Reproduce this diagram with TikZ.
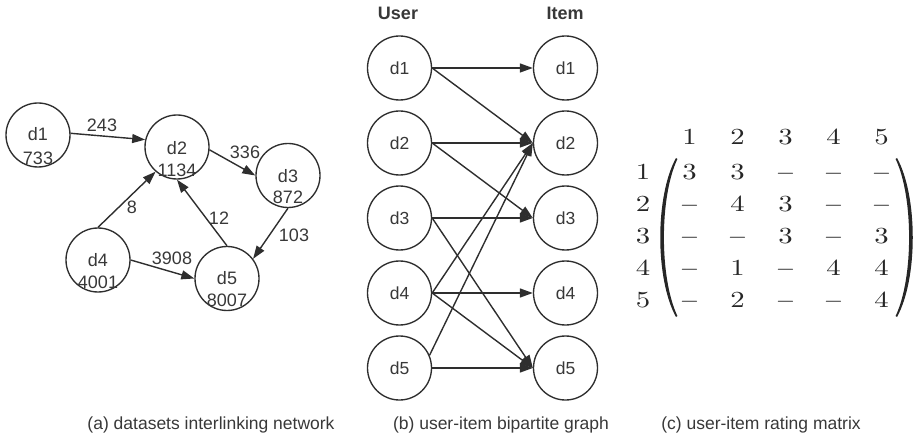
\documentclass[tikz,border=0pt]{standalone}
\usepackage{fontspec}
\newfontfamily\arialf{Liberation Sans}
\newfontfamily\cmf{lmroman10-regular.otf}[FakeStretch=1.25]
\newfontfamily\cmd{lmroman10-regular.otf}
\usetikzlibrary{arrows.meta,matrix}
\definecolor{ink}{HTML}{2E2E2E}
\definecolor{txt}{HTML}{383838}
\definecolor{mtxt}{HTML}{262626}
\newcommand{\dsh}{{\cmd −}}
\tikzset{
  circ/.style={circle, draw=ink, line width=1.35pt, minimum size=64pt, inner sep=0pt},
  lt/.style={font=\arialf\fontsize{18}{20}\selectfont, text=txt, inner sep=0pt},
  bt/.style={font=\arialf\fontsize{17.5}{20}\selectfont, text=txt, inner sep=0pt},
  hd/.style={font=\arialf\bfseries\fontsize{18}{20}\selectfont, text=txt, inner sep=0pt},
  captext/.style={font=\arialf\fontsize{17.5}{20}\selectfont, text=txt, inner sep=0pt},
  arr/.style={draw=ink, line width=1.4pt, -{Triangle[length=13pt,width=9pt]}},
  mt/.style={font=\cmf\fontsize{23}{27}\selectfont, text=mtxt, inner sep=0pt},
  cell/.style={mt, minimum width=18pt, minimum height=32pt, text height=15pt, text depth=0pt},
  parenfill/.style={fill=mtxt, draw=none}
}
\begin{document}
\begin{tikzpicture}[x=1pt,y=-1pt]
\useasboundingbox (0,0) rectangle (920,438);

% (a) dataset network: name and size inside each circle
\node[circ, label={[lt,yshift=1pt]center:d1}, label={[lt,yshift=-23pt]center:733}] (a1) at (38,135) {};
\node[circ, label={[lt,yshift=-1pt]center:d2}, label={[lt,yshift=-23pt]center:1134}] (a2) at (177,147) {};
\node[circ, label={[lt,yshift=-1pt]center:d3}, label={[lt,yshift=-22pt]center:872}] (a3) at (288,175.5) {};
\node[circ, label={[lt,yshift=0pt]center:d4}, label={[lt,yshift=-22pt]center:4001}] (a4) at (98,260) {};
\node[circ, label={[lt,yshift=0pt]center:d5}, label={[lt,yshift=-22pt]center:8007}] (a5) at (227,278.5) {};

\draw[arr] (a1.3) -- (a2.167);
\draw[arr] (a2.-5) -- (a3.west);
\draw[arr] (a4.north) -- (a2.229);
\draw[arr] (a5.north) -- (a2.south);
\draw[arr] (a3.south) -- (a5.37);
\draw[arr] (a4.east) -- (a5.west);

\node[lt] (w12) at (102,125) {243};
\node[lt] (w23) at (245,152) {336};
\node[lt] (w42) at (132,207) {8};
\node[lt] (w52) at (219,218) {12};
\node[lt] (w35) at (294,235) {103};
\node[lt] (w45) at (172,258) {3908};

% (b) bipartite graph
\node[hd] (huser) at (398,13) {User};
\node[hd] (hitem) at (565,13) {Item};
\foreach \i in {1,...,5} {
  \node[circ] (u\i) at (399.5,{68+75*(\i-1)}) {};
  \node[bt] (ut\i) at (u\i.center) {d\i};
  \node[circ] (v\i) at (565.5,{68+75*(\i-1)}) {};
  \node[bt] (vt\i) at (v\i.center) {d\i};
}
\draw[arr] (u1.east) -- (v1.west);
\draw[arr] (u1.east) -- (v2.west);
\draw[arr] (u2.east) -- (v2.west);
\draw[arr] (u2.east) -- (v3.west);
\draw[arr] (u3.east) -- (v3.west);
\draw[arr] (u3.east) -- (v5.west);
\draw[arr] (u4.east) -- (v2.west);
\draw[arr] (u4.east) -- (v4.west);
\draw[arr] (u4.east) -- (v5.west);
\draw[arr] (u5.23) -- (v2.west);
\draw[arr] (u5.east) -- (v5.west);

% (c) rating matrix
\foreach \c/\x in {1/689.5,2/737.5,3/785.5,4/833.5,5/881.5}
  \node[mt] (col\c) at (\x,137) {\c};
\foreach \r in {1,...,5}
  \node[mt] (row\r) at (643,{172+32*(\r-1)}) {\r};
\matrix (rm) [matrix of nodes, nodes={cell}, column sep=30pt, row sep=0pt] at (785.5,236) {
3 & 3 & \dsh & \dsh & \dsh \\
\dsh & 4 & 3 & \dsh & \dsh \\
\dsh & \dsh & 3 & \dsh & 3 \\
\dsh & 1 & \dsh & 4 & 4 \\
\dsh & 2 & \dsh & \dsh & 4 \\
};
% tall parentheses drawn as crescents
\fill[parenfill] (676,158) .. controls (655,196) and (655,279) .. (676,317)
  -- (677.4,316) .. controls (659.4,278) and (659.4,197) .. (677.4,159) -- cycle;
\fill[parenfill] (897,158) .. controls (918,196) and (918,279) .. (897,317)
  -- (895.6,316) .. controls (913.6,278) and (913.6,197) .. (895.6,159) -- cycle;

% captions
\node[captext] (capa) at (211,425) {(a) datasets interlinking network};
\node[captext] (capb) at (501,425) {(b) user-item bipartite graph};
\node[captext] (capc) at (761,425) {(c) user-item rating matrix};
\end{tikzpicture}
\end{document}
